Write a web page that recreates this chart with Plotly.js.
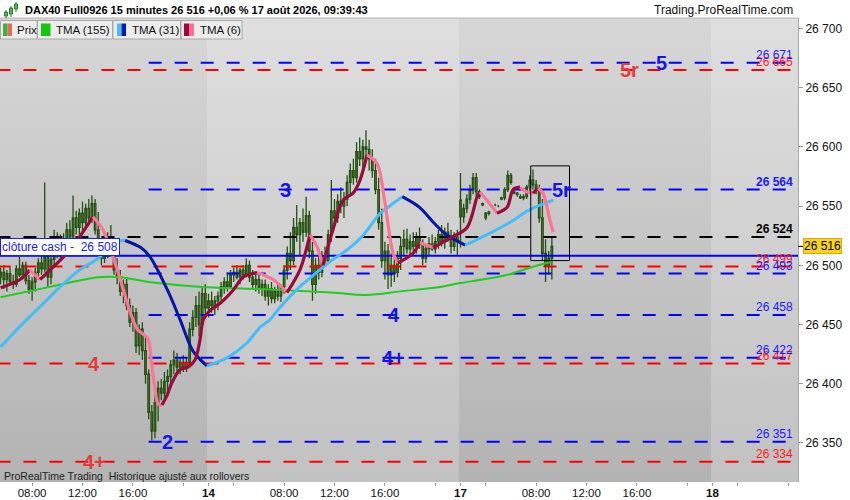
<!DOCTYPE html>
<html><head><meta charset="utf-8">
<script src="https://cdn.plot.ly/plotly-3.0.1.min.js"></script>
<style>
html,body{margin:0;padding:0;background:#fff;}
#wrap{position:relative;width:850px;height:500px;overflow:hidden;}
#bg{position:absolute;left:0;top:18px;width:798px;height:464px;background:linear-gradient(#d7d7d7,#b3b3b3);}
#chart{position:absolute;left:0;top:0;width:850px;height:500px;}
</style></head><body>
<div id="wrap"><div id="bg"></div><div id="chart"></div></div>
<script>
// ---------------- DATA ----------------
const instrument = 'DAX40 Full0926';
const timeframe = '15 minutes';
const changeText = '+0,06 %';
const stampText = '17 août 2026, 09:39:43';
const lastPrice = 26516;
const cashClose = 26508;

// bar index: 80 bars per day (02:00-22:00), day 13 starts at 0, day 14 at 80, day 17 at 160, day 18 at 240
const firstBar = 14;
const opens = [
26490,26494,26488,26493,26486,26484,26497,26492,26500,26487,
26480,26486,26494,26502,26497,26508,26490,26505,26522,26512,
26520,26514,26530,26524,26540,26532,26544,26536,26548,26540,
26552,26530,26518,26506,26512,26524,26514,26496,26490,26478,
26484,26466,26452,26460,26432,26446,26428,26408,26376,26360,
26384,26396,26392,26402,26406,26416,26420,26414,26418,26414,
26418,26446,26456,26466,26450,26476,
26464,26470,26466,26470,26474,26482,26486,26482,26492,26494,
26490,26496,26492,26500,26490,26484,26488,26480,26484,26474,
26480,26472,26478,26474,26482,26496,26510,26504,26532,26526,
26536,26528,26542,26512,26484,26500,26494,26508,26504,26526,
26546,26540,26554,26550,26556,26570,26580,26574,26596,26590,
26600,26598,26590,26580,26564,26536,26504,26512,26492,26500,
26494,26506,26516,26522,26514,26520,26516,26524,26518,26506,
26514,26518,26514,26520,26526,26520,26528,26524,26516,26524,
26555,26541,26548,26556,26564,26574,26562,26552,26540,26544,
26550,26551,26550,26556,26557,26564,26576,26562,26560,26558,
26557,26558,26566,26572,26568,26564,26540,26510,26500,26506];
const highs = [
26498,26500,26496,26499,26492,26500,26507,26503,26503,26492,
26490,26498,26506,26508,26570,26516,26510,26530,26528,26526,
26527,26536,26538,26559,26546,26548,26554,26552,26556,26559,
26556,26545,26522,26516,26528,26534,26520,26506,26496,26488,
26490,26472,26466,26464,26450,26452,26440,26412,26382,26390,
26402,26404,26410,26412,26420,26428,26426,26422,26424,26422,
26452,26462,26474,26478,26482,26484,
26476,26478,26474,26478,26486,26490,26494,26496,26498,26500,
26498,26500,26506,26504,26496,26492,26494,26488,26488,26484,
26486,26482,26484,26484,26500,26516,26528,26540,26551,26540,
26548,26558,26546,26520,26506,26514,26512,26516,26530,26572,
26556,26560,26566,26562,26576,26586,26590,26604,26608,26606,
26614,26606,26598,26590,26574,26548,26520,26518,26510,26506,
26512,26524,26530,26531,26526,26528,26528,26532,26522,26518,
26524,26526,26524,26530,26534,26532,26536,26530,26528,26530,
26578,26552,26560,26568,26578,26578,26564,26553,26545,26546,
26551,26552,26551,26558,26566,26580,26578,26563,26562,26560,
26560,26568,26576,26581,26572,26568,26556,26522,26512,26524];
const lows = [
26484,26480,26478,26483,26480,26482,26490,26488,26484,26476,
26470,26478,26488,26492,26494,26482,26484,26500,26506,26505,
26508,26510,26518,26520,26526,26526,26528,26532,26534,26536,
26526,26512,26500,26502,26506,26510,26492,26484,26474,26468,
26462,26448,26444,26426,26424,26420,26400,26370,26352,26354,
26368,26386,26386,26390,26400,26408,26410,26408,26410,26410,
26414,26440,26448,26440,26446,26458,
26456,26460,26458,26462,26470,26476,26478,26480,26486,26488,
26484,26488,26490,26486,26480,26478,26476,26474,26470,26466,
26468,26468,26470,26469,26476,26488,26496,26500,26520,26508,
26520,26524,26506,26470,26476,26488,26490,26500,26502,26520,
26534,26536,26544,26540,26550,26560,26568,26570,26584,26582,
26592,26580,26574,26560,26530,26498,26488,26480,26482,26486,
26490,26496,26508,26510,26508,26512,26510,26514,26500,26502,
26508,26512,26510,26514,26516,26514,26520,26510,26512,26508,
26515,26536,26544,26552,26560,26558,26556,26550,26538,26542,
26549,26550,26549,26555,26555,26562,26568,26560,26558,26556,
26555,26556,26562,26564,26560,26536,26504,26486,26492,26488];
const closes = [
26494,26488,26493,26486,26484,26497,26492,26500,26487,26480,
26486,26494,26502,26497,26508,26490,26505,26522,26512,26520,
26514,26530,26524,26540,26532,26544,26536,26548,26540,26552,
26530,26518,26506,26512,26524,26514,26496,26490,26478,26484,
26466,26452,26460,26432,26446,26428,26408,26376,26360,26384,
26396,26392,26402,26406,26416,26420,26414,26418,26414,26418,
26446,26456,26466,26450,26476,26464,
26470,26466,26470,26474,26482,26486,26482,26492,26494,26490,
26496,26492,26500,26490,26484,26488,26480,26484,26474,26480,
26472,26478,26474,26482,26496,26510,26504,26532,26526,26536,
26528,26542,26512,26484,26500,26494,26508,26504,26526,26546,
26540,26554,26550,26556,26570,26580,26574,26596,26590,26600,
26598,26590,26580,26564,26536,26504,26512,26492,26500,26494,
26506,26516,26522,26514,26520,26516,26524,26518,26506,26514,
26518,26514,26520,26526,26520,26528,26524,26516,26524,26520,
26541,26548,26556,26564,26574,26562,26558,26551,26544,26545,
26550,26551,26550,26557,26564,26576,26570,26561,26561,26557,
26558,26566,26572,26568,26564,26540,26510,26500,26506,26516];

// moving averages (bar index, value)
const tma155X = [14,30,45,52,61,77,96,119,130,141,154,160,167,175,182,189];
const tma155Y = [26473,26482,26490,26490,26486,26482,26480,26477,26475,26478,26482,26485,26488,26492,26498,26503];
const tma31X = [14,20,26.5,33,39,45.5,49.5,53.5,58.5,61.5,67,71,75,79.5,86,92,96.5,99.5,102.5,109,113,119.5,124,129,134.5,137,141.5,147,151.5,155.5,161.5,167,175.5,182,189.5];
const tma31Y = [26431,26448,26465,26482,26496,26507,26519,26521,26515,26507,26479,26454,26428,26415,26422,26434,26448,26454,26464,26482,26491,26505,26513,26525,26544,26549,26558,26549,26536,26526,26517,26524,26536,26547,26555];
const tma6X = [14,20.2,23.3,26.5,29.7,36,43.3,46.5,49.7,52,55.2,57.4,59.2,60.8,62,63,64,65.2,66.8,68.4,71,73.5,75.7,77.3,78.3,80.5,83.7,87.8,91,95.4,100.5,104.9,109,112.2,114.4,116.3,119.5,122.7,125.9,128.1,130.3,133.5,136,138.6,140.2,144.9,147.1,151.3,156.7,162.1,165.3,166.2,168.4,171.6,174.8,176.7,178.9,181.1,183,184.6,186.2,188.4,189.4];
const tma6Y = [26481,26488,26496,26488,26496,26513,26541,26530,26507,26488,26460,26446,26442,26438,26415,26396,26383,26382,26390,26401,26412,26414,26420,26437,26454,26462,26468,26479,26490,26494,26488,26477,26496,26526,26516,26500,26530,26555,26561,26572,26593,26586,26553,26510,26502,26510,26519,26515,26523,26532,26558,26562,26555,26544,26549,26564,26566,26562,26561,26565,26561,26538,26528];

// horizontal levels
const blueLevels = [26671, 26564, 26493, 26458, 26422, 26351];
const redLevels = [26665, 26499, 26417, 26334];
const blackLevels = [26524];
const blueLevelStartBar = 61;

// x-axis ticks (bar index) and labels
const tickBars = [24,40,56,72,80,88,104,120,136,152,160,168,184,200,216,232,240,248,264];
const tickLabels = ['08:00','12:00','16:00','','<b>14</b>','','08:00','12:00','16:00','','<b>17</b>','','08:00','12:00','16:00','','<b>18</b>','',''];

// ---------------- BUILD ----------------
const FONT = 'Liberation Sans, Arial, sans-serif';
const BLUE = '#0000ff', RED = '#ff0000';
const fmt = n => String(n).replace(/\B(?=(\d{3})+(?!\d))/g, ' ');
const px = x => x / 798;
const py = y => (482 - y) / 464;
const X_END = 268;

const barIdx = opens.map((_, i) => firstBar + i);
const traces = [];
traces.push({
  type: 'candlestick', x: barIdx, open: opens, high: highs, low: lows, close: closes,
  increasing: {line: {color: '#235010', width: 1.3}, fillcolor: '#45c845'},
  decreasing: {line: {color: '#235010', width: 1.3}, fillcolor: '#f07f6b'},
  whiskerwidth: 0, hoverinfo: 'skip', showlegend: false
});
function levelTrace(v, x0, color, dash) {
  return {type: 'scatter', mode: 'lines', x: [x0, X_END], y: [v, v],
    line: {color: color, width: 2, dash: dash}, hoverinfo: 'skip', showlegend: false};
}
redLevels.forEach(v => traces.push(levelTrace(v, 13, RED, '13px,13px')));
blackLevels.forEach(v => traces.push(levelTrace(v, 13, '#000000', '13px,13px')));
blueLevels.forEach(v => traces.push(levelTrace(v, blueLevelStartBar, BLUE, '13px,13px')));
traces.push(levelTrace(cashClose, 13, BLUE, 'solid'));

function dirTraces(xs, ys, upColor, downColor, width) {
  const segs = [];
  let seg = {x: [xs[0]], y: [ys[0]], up: ys[1] >= ys[0]};
  for (let i = 1; i < xs.length; i++) {
    const up = ys[i] >= ys[i - 1];
    if (up !== seg.up) { segs.push(seg); seg = {x: [xs[i - 1]], y: [ys[i - 1]], up: up}; }
    seg.x.push(xs[i]); seg.y.push(ys[i]);
  }
  segs.push(seg);
  return segs.map(s => ({type: 'scatter', mode: 'lines', x: s.x, y: s.y,
    line: {color: s.up ? upColor : downColor, width: width, shape: 'spline', smoothing: 0.9},
    hoverinfo: 'skip', showlegend: false}));
}
traces.push({type: 'scatter', mode: 'lines', x: tma155X, y: tma155Y,
  line: {color: '#1fcc1f', width: 2, shape: 'spline', smoothing: 1}, hoverinfo: 'skip', showlegend: false});
dirTraces(tma31X, tma31Y, '#45bdfb', '#0716a4', 3).forEach(t => traces.push(t));
dirTraces(tma6X, tma6Y, '#9a0a3c', '#ff7396', 3.2).forEach(t => traces.push(t));

const shapes = [];
// day bands
[[79.5, 159.5], [239.5, 270]].forEach(b => shapes.push({type: 'rect', xref: 'x', yref: 'paper',
  x0: b[0], x1: b[1], y0: 0, y1: 1, fillcolor: 'rgba(255,255,255,0.2)', line: {width: 0}, layer: 'below'}));
// highlight box
shapes.push({type: 'rect', xref: 'x', yref: 'y', x0: 182.3, x1: 194.6, y0: 26504, y1: 26584,
  line: {color: '#000', width: 1}, fillcolor: 'rgba(0,0,0,0)'});
// top border of plot
shapes.push({type: 'line', xref: 'paper', yref: 'paper', x0: 0, x1: 1, y0: 1, y1: 1, line: {color: '#b4b4b4', width: 1}});
// last price tick
shapes.push({type: 'line', xref: 'paper', yref: 'y', x0: 1, x1: 1 + 5 / 798, y0: lastPrice, y1: lastPrice, line: {color: '#000', width: 1}});
function rect(x0, y0, x1, y1, fill, lc) {
  shapes.push({type: 'rect', xref: 'paper', yref: 'paper', x0: px(x0), x1: px(x1), y0: py(y1), y1: py(y0),
    fillcolor: fill, line: {color: lc || fill, width: lc ? 1 : 0}, layer: 'above'});
}
function vline(x, y0, y1, c) {
  shapes.push({type: 'line', xref: 'paper', yref: 'paper', x0: px(x), x1: px(x), y0: py(y1), y1: py(y0), line: {color: c, width: 1}});
}
// title icon
vline(6, 10, 18, '#2c7a2c'); rect(4.5, 12, 7.5, 16, '#4cc04c', '#2c7a2c');
vline(11, 6, 17, '#2c7a2c'); rect(9.5, 8, 12.5, 14, '#4cc04c', '#2c7a2c');
vline(16, 2, 12, '#2c7a2c'); rect(14.5, 4, 17.5, 9, '#4cc04c', '#2c7a2c');
// legend boxes
const legendBoxes = [[0.5, 37], [37.5, 112.5], [113, 180.5], [181, 242]];
legendBoxes.forEach(b => rect(b[0], 20.5, b[1], 39, '#ececec', '#a9a9a9'));
rect(3, 23.5, 7.5, 36, '#3cb43c'); rect(7.5, 23.5, 12, 36, '#e46a5e');
rect(41, 23.5, 50.5, 36, '#10c810');
rect(117, 23.5, 121.5, 36, '#4ab8fb'); rect(121.5, 23.5, 126, 36, '#0716b8');
rect(184, 23.5, 189, 36, '#9a0a3c'); rect(189, 23.5, 194, 36, '#ff6f93');

const ann = [];
function pText(x, y, text, opts) {
  ann.push(Object.assign({xref: 'paper', yref: 'paper', x: px(x), y: py(y), text: text, showarrow: false,
    xanchor: 'left', yanchor: 'middle', font: {family: FONT, size: 12, color: '#111'}}, opts || {}));
}
pText(23, 9.5, '<b>' + instrument + ' ' + timeframe + ' ' + fmt(lastPrice) + ' ' + changeText + ' ' + stampText + '</b>', {font: {family: FONT, size: 11, color: '#000'}});
pText(795, 9.5, 'Trading.ProRealTime.com', {xanchor: 'right', font: {family: FONT, size: 12, color: '#111'}});
const legendFont = {family: FONT, size: 11.5, color: '#111'};
pText(14.5, 30, 'Prix', {font: legendFont}); pText(54, 30, 'TMA (155)', {font: legendFont});
pText(129.5, 30, 'TMA (31)', {font: legendFont}); pText(197.5, 30, 'TMA (6)', {font: legendFont});
pText(2, 476, 'ProRealTime Trading  Historique ajusté aux rollovers', {font: {family: FONT, size: 10.5, color: '#222'}});

// right-side level values
function levelLabel(v, color, bold) {
  ann.push({xref: 'paper', yref: 'y', x: 1, xshift: -3, y: v, yshift: 8, xanchor: 'right', yanchor: 'middle',
    text: bold ? '<b>' + fmt(v) + '</b>' : fmt(v), showarrow: false, font: {family: FONT, size: 12, color: color}});
}
redLevels.forEach(v => levelLabel(v, '#ff1a1a', false));
blueLevels.forEach(v => levelLabel(v, '#1a1aff', v === 26564));
blackLevels.forEach(v => levelLabel(v, '#000', true));

// cash close label
ann.push({xref: 'paper', yref: 'y', x: 0, y: cashClose, xanchor: 'left', yanchor: 'bottom', showarrow: false,
  text: 'clôture cash -  ' + fmt(cashClose), font: {family: FONT, size: 12, color: '#1a1aff'},
  bgcolor: '#ffffff', bordercolor: '#1a1aff', borderwidth: 1, borderpad: 1});
// last price tag
ann.push({xref: 'paper', yref: 'y', x: 1, xshift: 5, y: lastPrice, xanchor: 'left', yanchor: 'middle', showarrow: false,
  text: fmt(lastPrice), font: {family: FONT, size: 12, color: '#000'},
  bgcolor: '#f9d41a', bordercolor: '#d9a900', borderwidth: 1, borderpad: 0});

// wave labels sitting on their levels
const waveLabels = [
  {t: '5r', bar: 213.8, lvl: 26665, c: '#e83a3a'},
  {t: '5', bar: 223.7, lvl: 26671, c: '#1515e8'},
  {t: '3', bar: 104.6, lvl: 26564, c: '#1515e8'},
  {t: '5r', bar: 192.1, lvl: 26564, c: '#1515e8'},
  {t: '4', bar: 138.9, lvl: 26458, c: '#1515e8'},
  {t: '4+', bar: 138.6, lvl: 26422, c: '#1515e8'},
  {t: '4', bar: 43.7, lvl: 26417, c: '#e83a3a'},
  {t: '2', bar: 67.1, lvl: 26351, c: '#1515e8'},
  {t: '4+', bar: 43.7, lvl: 26334, c: '#e83a3a'}
];
waveLabels.forEach(w => ann.push({xref: 'x', yref: 'y', x: w.bar, y: w.lvl, xanchor: 'center', yanchor: 'middle',
  showarrow: false, text: '<b>' + w.t + '</b>', font: {family: FONT, size: 20, color: w.c}}));

const layout = {
  width: 850, height: 500,
  margin: {l: 0, r: 52, t: 18, b: 18, pad: 0},
  paper_bgcolor: 'rgba(0,0,0,0)', plot_bgcolor: 'rgba(0,0,0,0)',
  separators: ', ',
  font: {family: FONT, size: 12, color: '#111'},
  showlegend: false, hovermode: false,
  xaxis: {range: [13.81, 267.14], showgrid: false, zeroline: false, showline: false,
    tickmode: 'array', tickvals: tickBars, ticktext: tickLabels, ticks: 'outside', ticklen: 3,
    tickcolor: '#999', tickfont: {family: FONT, size: 11.5, color: '#111'}, ticklabelstandoff: -3,
    rangeslider: {visible: false}, fixedrange: true},
  yaxis: {range: [26317.0, 26708.9], side: 'right', showgrid: false, zeroline: false,
    showline: true, linecolor: '#a8a8a8', linewidth: 1, dtick: 50, tick0: 26350, tickformat: ',d',
    ticks: 'outside', ticklen: 4, tickcolor: '#999', tickfont: {family: FONT, size: 12, color: '#111'}, fixedrange: true},
  shapes: shapes,
  annotations: ann
};
Plotly.newPlot('chart', traces, layout, {displayModeBar: false, staticPlot: true});
</script>
</body></html>
